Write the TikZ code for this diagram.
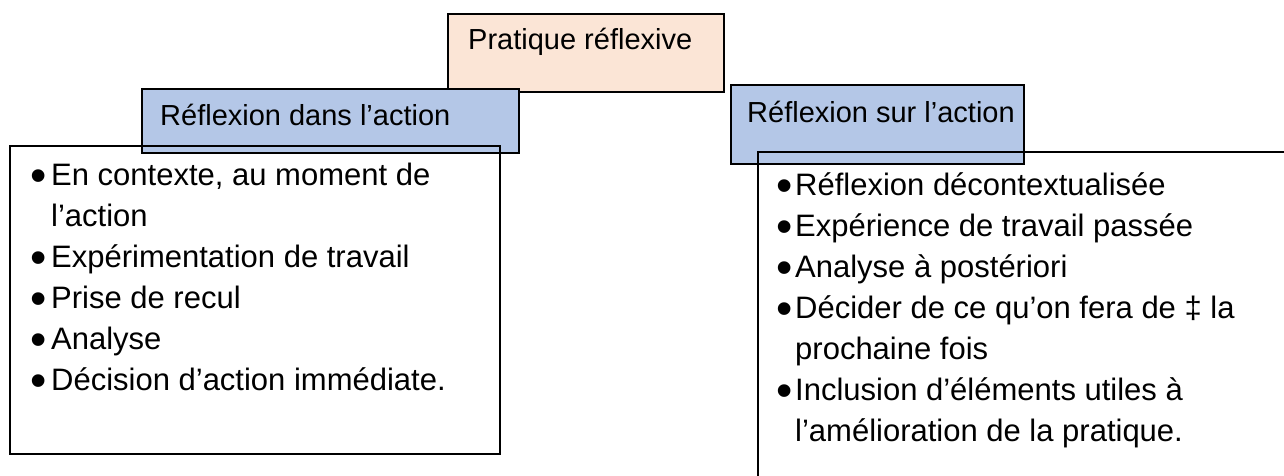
\documentclass[tikz,border=0pt]{standalone}
\usepackage{fontspec}
\setmainfont{Liberation Sans}
\definecolor{peachfill}{HTML}{FBE5D6}
\definecolor{bluefill}{HTML}{B4C7E7}
\newcommand{\bigbul}{\smash{\raisebox{-6pt}{\scalebox{1.5}{•}}}}
\tikzset{
  boxline/.style={draw=black, line width=2.2pt},
  peachbox/.style={boxline, fill=peachfill, anchor=north west, inner sep=0pt},
  bluebox/.style={boxline, fill=bluefill, anchor=north west, inner sep=0pt},
  framebox/.style={boxline, anchor=north west, inner sep=0pt},
  titletext/.style={anchor=base west, inner sep=0pt, font=\fontsize{29}{35}\selectfont},
  itemtext/.style={anchor=base west, inner sep=0pt, font=\fontsize{31}{41}\selectfont},
}
\begin{document}
\begin{tikzpicture}[x=1pt,y=-1pt]
\useasboundingbox (0,0) rectangle (1284,476);
% boxes
\node[peachbox, minimum width=276pt, minimum height=78pt] (prat) at (447,13) {};
\node[bluebox, minimum width=377pt, minimum height=64pt] (dans) at (141,88) {};
\node[bluebox, minimum width=293pt, minimum height=79pt] (sur) at (730,84) {};
\node[framebox, minimum width=490pt, minimum height=308pt] (leftbox) at (9,145) {};
\coordinate (rtop) at (1290,152);
\coordinate (rcorner) at (758,152);
\coordinate (rbottom) at (758,482);
\draw[boxline] (rtop) -- (rcorner) -- (rbottom);
% titles
\node[titletext] (tprat) at (468,50) {Pratique réflexive};
\node[titletext] (tdans) at (160,125) {Réflexion dans l’action};
\node[titletext] (tsur) at (747,123) {Réflexion sur l’action};
% left list
\node[itemtext] (l1) at (30,185) {\makebox[21pt][l]{\bigbul}En contexte, au moment de};
\node[itemtext] (l1b) at (51,226) {l’action};
\node[itemtext] (l2) at (30,267) {\makebox[21pt][l]{\bigbul}Expérimentation de travail};
\node[itemtext] (l3) at (30,308) {\makebox[21pt][l]{\bigbul}Prise de recul};
\node[itemtext] (l4) at (30,349) {\makebox[21pt][l]{\bigbul}Analyse};
\node[itemtext] (l5) at (30,390) {\makebox[21pt][l]{\bigbul}Décision d’action immédiate.};
% right list
\node[itemtext] (r1) at (776,195) {\makebox[19pt][l]{\bigbul}Réflexion décontextualisée};
\node[itemtext] (r2) at (776,236) {\makebox[19pt][l]{\bigbul}Expérience de travail passée};
\node[itemtext] (r3) at (776,277) {\makebox[19pt][l]{\bigbul}Analyse à postériori};
\node[itemtext] (r4) at (776,318) {\makebox[19pt][l]{\bigbul}Décider de ce qu’on fera de ‡ la};
\node[itemtext] (r4b) at (795,359) {prochaine fois};
\node[itemtext] (r5) at (776,400) {\makebox[19pt][l]{\bigbul}Inclusion d’éléments utiles à};
\node[itemtext] (r5b) at (795,441) {l’amélioration de la pratique.};
\end{tikzpicture}
\end{document}
